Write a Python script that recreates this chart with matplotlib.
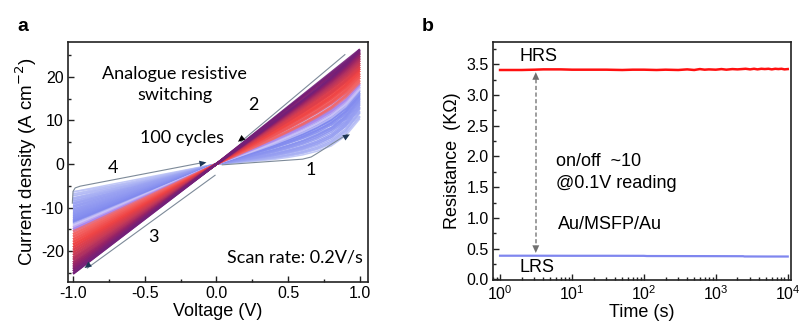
import numpy as np
import matplotlib.pyplot as plt
from matplotlib.colors import LinearSegmentedColormap
from matplotlib.ticker import MultipleLocator, LogLocator, NullFormatter

plt.rcParams['font.family'] = ['Liberation Sans', 'DejaVu Sans']
plt.rcParams['axes.unicode_minus'] = False

# ---- panel a: I-V sweeps ----
# |V| grid and normalised branch shapes J / J(|V| = 1)
v_grid = [0.0, 0.1, 0.2, 0.3, 0.4, 0.5, 0.6, 0.7, 0.8, 0.9, 1.0]
shape_flat = [0.0, 0.02, 0.045, 0.07, 0.10, 0.145, 0.20, 0.28, 0.40, 0.62, 1.0]
shape_sat = [0.0, 0.19, 0.35, 0.48, 0.56, 0.62, 0.69, 0.76, 0.84, 0.92, 1.0]

# current density at +1 V / -1 V and branch bending for each plotted cycle
cycle_jp = [10.4, 11.0, 10.8, 11.7, 12.2, 11.9, 12.7, 13.1, 12.9, 13.5,
            14.0, 13.7, 14.3, 14.8, 14.5, 15.1, 15.4, 15.0, 15.8, 16.1,
            15.7, 16.4, 16.8, 16.3, 17.0,
            17.4, 17.8, 18.3,
            18.7, 19.2, 19.8, 20.3, 20.8, 21.4, 21.9, 22.3, 22.8,
            23.2, 23.7, 24.1, 24.5, 24.9, 25.3, 25.6, 25.9, 26.3]
cycle_jn = [-6.4, -6.9, -7.3, -7.8, -8.1, -8.5, -8.9, -9.2, -9.6, -9.9,
            -10.3, -10.6, -10.9, -11.2, -11.5, -11.8, -12.0, -12.3, -12.5, -12.8,
            -13.0, -13.2, -13.4, -13.6, -13.8,
            -14.2, -14.6, -15.0,
            -15.5, -16.1, -16.7, -17.3, -17.9, -18.5, -19.1, -19.7, -20.3,
            -20.9, -21.5, -22.0, -22.6, -23.1, -23.6, -24.1, -24.6, -25.2]
cycle_bend = [1.0, 0.95, 0.9, 0.95, 0.85, 0.9, 0.8, 0.85, 0.75, 0.8,
              0.7, 0.75, 0.65, 0.7, 0.6, 0.65, 0.55, 0.6, 0.5, 0.55,
              0.5, 0.45, 0.5, 0.4, 0.45,
              0.4, 0.35, 0.35,
              0.3, 0.3, 0.25, 0.25, 0.2, 0.2, 0.15, 0.15, 0.1,
              0.1, 0.1, 0.05, 0.05, 0.05, 0.0, 0.0, 0.0, 0.0]

cycle_colors = LinearSegmentedColormap.from_list('cycles', [
    (0.00, '#bcc3f6'), (0.15, '#9ba3f2'), (0.50, '#7f88ee'), (0.55, '#d3cff9'),
    (0.60, '#ab88ee'), (0.63, '#f36a6a'), (0.74, '#ef4242'), (0.84, '#c0385a'),
    (0.93, '#942268'), (1.00, '#731f78')])

# ---- panel b: retention ----
hrs_time = [1, 1.5, 2, 3, 4, 5, 7, 10, 15, 20, 30, 50, 70, 100, 150, 200, 300,
            400, 500, 600, 700, 800, 1000, 1200, 1400, 1700, 2000, 2300, 2600,
            3000, 3400, 3800, 4300, 4800, 5400, 6000, 6700, 7400, 8200, 9000, 10000]
hrs_res = [3.405, 3.405, 3.405, 3.41, 3.415, 3.415, 3.415, 3.41, 3.41, 3.41, 3.41, 3.405,
           3.41, 3.41, 3.405, 3.41, 3.405, 3.415, 3.405, 3.42, 3.41, 3.415, 3.41, 3.42,
           3.41, 3.42, 3.415, 3.42, 3.425, 3.415, 3.425, 3.415, 3.425, 3.42, 3.425,
           3.415, 3.425, 3.42, 3.425, 3.415, 3.42]
lrs_time = [1, 3, 10, 30, 100, 110, 300, 1000, 2400, 2500, 5000, 10000]
lrs_res = [0.385, 0.385, 0.384, 0.384, 0.383, 0.380, 0.379, 0.378, 0.377, 0.373, 0.372, 0.372]

fig = plt.figure(figsize=(8.01, 3.29), dpi=100)
ax1 = fig.add_axes([0.0849, 0.1429, 0.3745, 0.7294])
ax2 = fig.add_axes([0.6151, 0.1489, 0.3724, 0.7234])

vg = np.array(v_grid)
flat = np.array(shape_flat)
sat = np.array(shape_sat)
n = len(cycle_jp)
for i in range(n):
    c = cycle_colors(i / (n - 1))
    b = cycle_bend[i]
    jp, jn = cycle_jp[i], cycle_jn[i]
    up = jp * (b * flat + (1 - b) * vg)
    back = jp * (0.1 * flat + 0.9 * vg)
    down = jn * vg
    ret = jn * (b * sat + (1 - b) * vg)
    lw = 1.1 if jp < 17.2 else 1.6
    kw = dict(color=c, lw=lw, alpha=0.9, solid_capstyle='butt')
    ax1.plot(vg, up, **kw)
    ax1.plot(vg, back, **kw)
    ax1.plot(-vg, down, **kw)
    ax1.plot(-vg, ret, **kw)

# sweep direction guides
guide = '#7d8a99'
head = '#1d3656'
paths = [
    ([0.04, 0.60, 0.66, 0.70, 0.93], [-0.2, 1.1, 1.6, 2.4, 6.8], head),
    ([0.895, 0.15], [25.1, 5.1], 'black'),
    ([-0.01, -0.92], [-2.6, -23.9], head),
    ([-1.005, -1.0, -0.985, -0.95, -0.07], [-9.0, -6.3, -5.5, -5.1, 0.35], head),
]
for xs, ys, hc in paths:
    ax1.plot(xs[:-1] + [xs[-1] - 0.02 * np.sign(xs[-1] - xs[-2])], ys[:-1] + [ys[-1]],
             color=guide, lw=0.8)
    ax1.annotate('', xy=(xs[-1], ys[-1]), xytext=(xs[-2], ys[-2]),
                 arrowprops=dict(arrowstyle='-|>,head_length=0.5,head_width=0.22',
                                 color=hc, lw=0, shrinkA=0, shrinkB=0, alpha=1))

lab = dict(family=['Lato', 'DejaVu Sans'], fontsize=13)
ax1.text(-0.29, 18.3, 'Analogue resistive\nswitching', ha='center', va='center',
         linespacing=1.35, **lab)
ax1.text(-0.24, 6.0, '100 cycles', ha='center', va='center', **lab)
ax1.text(0.255, 13.6, '2', ha='center', va='center', **lab)
ax1.text(0.66, -1.4, '1', ha='center', va='center', **lab)
ax1.text(-0.44, -16.8, '3', ha='center', va='center', **lab)
ax1.text(-0.72, -1.0, '4', ha='center', va='center', **lab)
ax1.text(1.02, -21.4, 'Scan rate: 0.2V/s', ha='right', va='center', **lab)

ax1.set_xlim(-1.035, 1.056)
ax1.set_ylim(-27.1, 28.0)
ax1.xaxis.set_major_locator(MultipleLocator(0.5))
ax1.xaxis.set_minor_locator(MultipleLocator(0.25))
ax1.yaxis.set_major_locator(MultipleLocator(10))
ax1.yaxis.set_minor_locator(MultipleLocator(5))
ax1.set_xlabel('Voltage (V)', fontsize=13, labelpad=1)
ax1.set_ylabel('Current density (A cm$^{-2}$)', fontsize=13.5, labelpad=1)

ax2.plot(hrs_time, hrs_res, color='#ff1010', lw=1.8)
ax2.plot(lrs_time, lrs_res, color='#7f86ef', lw=1.6)
ax2.set_xscale('log')
ax2.set_xlim(0.79, 11100)
ax2.set_ylim(-0.01, 3.86)
ax2.yaxis.set_major_locator(MultipleLocator(0.5))
ax2.yaxis.set_minor_locator(MultipleLocator(0.25))
ax2.xaxis.set_major_locator(LogLocator(base=10, numticks=10))
ax2.xaxis.set_minor_locator(LogLocator(base=10, subs=np.arange(2, 10), numticks=10))
ax2.xaxis.set_minor_formatter(NullFormatter())
ax2.yaxis.set_major_formatter(plt.FuncFormatter(lambda v, p: f'{v:.1f}'))
ax2.set_xlabel('Time (s)', fontsize=13, labelpad=1)
ax2.set_ylabel('Resistance  (K\u03a9)', fontsize=13, labelpad=4)

# on/off window marker
ax2.plot([3.14, 3.14], [0.47, 3.32], color='#8c8c8c', lw=1.2, ls=(0, (2.5, 1.5)))
for y0, y1 in [(3.2, 3.37), (0.6, 0.43)]:
    ax2.annotate('', xy=(3.14, y1), xytext=(3.14, y0),
                 arrowprops=dict(arrowstyle='-|>,head_length=0.55,head_width=0.25',
                                 color='#707070', lw=0, shrinkA=0, shrinkB=0))

txt = dict(fontsize=13)
ax2.text(3.4, 3.62, 'HRS', ha='center', va='center', **txt)
ax2.text(3.3, 0.19, 'LRS', ha='center', va='center', **txt)
ax2.text(6.0, 1.91, 'on/off  ~10', ha='left', va='center', **txt)
ax2.text(6.0, 1.56, '@0.1V reading', ha='left', va='center', **txt)
ax2.text(6.3, 0.89, 'Au/MSFP/Au', ha='left', va='center', **txt)

for ax in (ax1, ax2):
    for s in ax.spines.values():
        s.set_linewidth(1.2)
        s.set_color('#222222')
    ax.tick_params(which='both', direction='in', top=False, right=False,
                   labelsize=11.5, width=1.0, colors='#222222')
    ax.tick_params(which='major', length=4, pad=3)
    ax.tick_params(which='minor', length=2)
    for t in ax.get_xticklabels() + ax.get_yticklabels():
        t.set_color('black')

fig.text(0.028, 0.918, 'a', fontsize=14, fontweight='bold', ha='center', va='center')
fig.text(0.534, 0.918, 'b', fontsize=14, fontweight='bold', ha='center', va='center')

fig.savefig('out.png', dpi=100)
